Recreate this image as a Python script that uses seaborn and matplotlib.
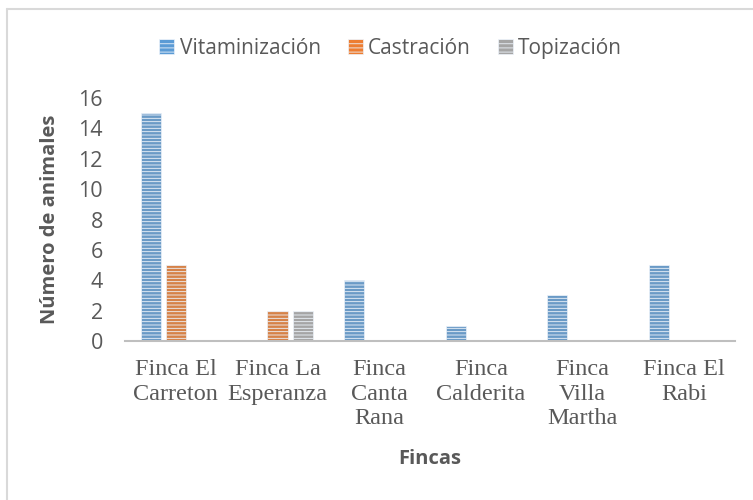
import pandas as pd
import seaborn as sns
import matplotlib.pyplot as plt
from matplotlib.patches import Rectangle
from matplotlib.lines import Line2D

fincas = ['Finca El\nCarreton', 'Finca La\nEsperanza', 'Finca\nCanta\nRana',
          'Finca\nCalderita', 'Finca\nVilla\nMartha', 'Finca El\nRabi']
vitaminizacion = [15, 0, 4, 1, 3, 5]
castracion = [5, 2, 0, 0, 0, 0]
topizacion = [0, 2, 0, 0, 0, 0]
series = ['Vitaminización', 'Castración', 'Topización']
colores = ['#5B9BD5', '#ED7D31', '#A5A5A5']

df = pd.DataFrame({'Finca': fincas * 3,
                   'Actividad': [s for s in series for _ in fincas],
                   'Valor': vitaminizacion + castracion + topizacion})

sns.set_style('white')
plt.rcParams['font.family'] = ['Open Sans', 'DejaVu Sans']
plt.rcParams['hatch.linewidth'] = 0.6
plt.rcParams['hatch.color'] = '#EEF4FB'

fig = plt.figure(figsize=(7.53, 5), dpi=100)
ax = fig.add_axes([0.166, 0.318, 0.810, 0.486])

sns.barplot(data=df, x='Finca', y='Valor', hue='Actividad', palette=colores,
            width=0.74, gap=0.2, ax=ax, edgecolor='#EEF4FB', linewidth=0.5,
            hatch='-----', legend=False)

ax.set_ylim(0, 16)
ax.set_yticks(range(0, 17, 2))
ax.set_xlim(-0.5, 5.5)
sns.despine(ax=ax, left=True)
ax.spines['bottom'].set_color('#BFBFBF')
ax.spines['bottom'].set_linewidth(1.5)
ax.tick_params(axis='y', labelsize=15.5, colors='#595959', length=0, pad=16)
ax.tick_params(axis='x', length=0, pad=13)
for lbl in ax.get_xticklabels():
    lbl.set_fontfamily('Liberation Serif')
    lbl.set_fontsize(17.5)
    lbl.set_color('#595959')
    lbl.set_linespacing(1.22)

ax.set_xlabel('Fincas', fontsize=14.5, fontweight='bold', color='#595959', labelpad=14)
ax.set_ylabel('Número de animales', fontsize=14.5, fontweight='bold', color='#595959', labelpad=13)

handles = [Rectangle((0, 0), 1, 1, facecolor=c, edgecolor='#EEF4FB', hatch='----', linewidth=0.5)
           for c in colores]
fig.legend(handles, series, loc='center', bbox_to_anchor=(0.519, 0.903), ncol=3,
           frameon=False, fontsize=15, handlelength=0.72, handleheight=0.72,
           handletextpad=0.25, columnspacing=1.3, labelcolor='#595959')

fig.add_artist(Line2D([0.0093, 0.0093], [0.0, 0.982], transform=fig.transFigure,
                      color='#D9D9D9', linewidth=1.5))
fig.add_artist(Line2D([0.0093, 1.0], [0.982, 0.982], transform=fig.transFigure,
                      color='#D9D9D9', linewidth=1.5))

fig.savefig('out.png', dpi=100)
